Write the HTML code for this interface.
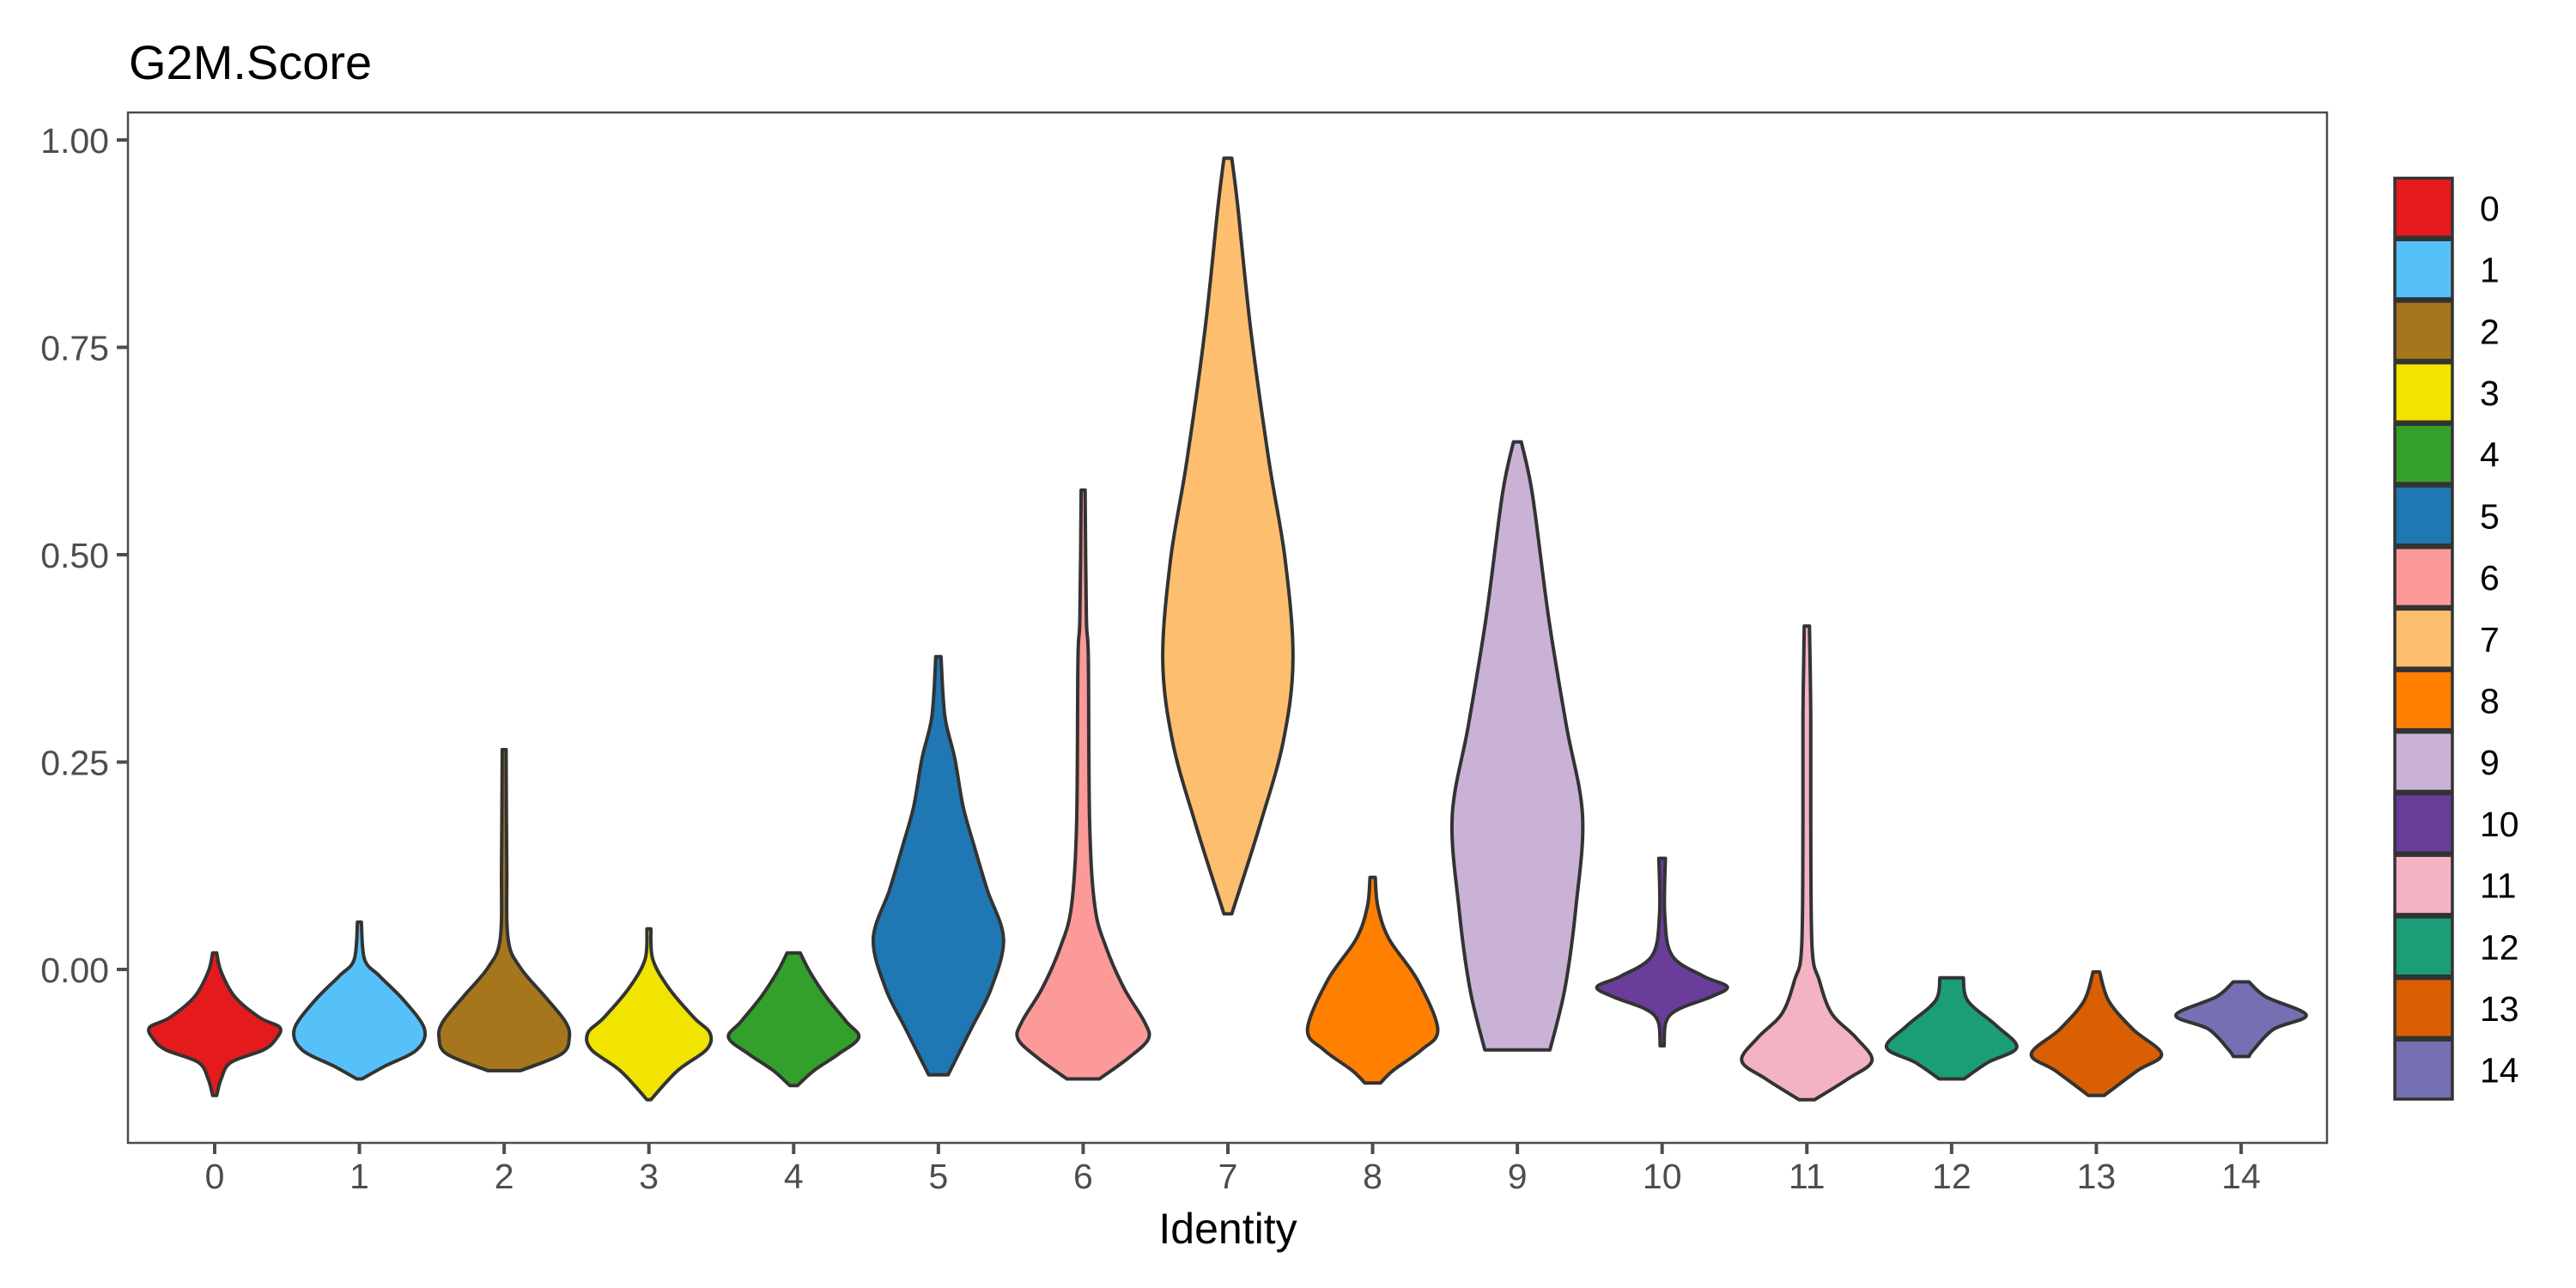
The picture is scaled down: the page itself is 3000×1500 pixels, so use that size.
<!DOCTYPE html>
<html><head><meta charset="utf-8"><style>
html,body{margin:0;padding:0;background:#fff;}
svg{display:block;font-family:"Liberation Sans",Arial,sans-serif;}
</style></head><body>
<svg id="chart" width="3000" height="1500" viewBox="0 0 3000 1500" xmlns="http://www.w3.org/2000/svg">
<rect width="3000" height="1500" fill="#fff"/>
<text x="150" y="92" font-size="56" fill="#000">G2M.Score</text>
<g id="plot"></g>
<rect x="149" y="131" width="2561" height="1200" fill="none" stroke="#4d4d4d" stroke-width="2.5"/>
<g id="axes"></g>
<text x="1430" y="1448" font-size="50" text-anchor="middle" fill="#000">Identity</text>
<g id="legend"></g>
</svg>
<script>
const categories=["0","1","2","3","4","5","6","7","8","9","10","11","12","13","14"];
const colors=["#E41A1C","#56C1F9","#A6761D","#F0E400","#33A02C","#1F78B4","#FB9A99","#FDBF6F","#FF7F00","#CAB2D6","#6A3D9A","#F4B3C2","#1B9E77","#D95F02","#7570B3"];
const yTicks=[0,0.25,0.5,0.75,1.0];
const yTickLabels=["0.00","0.25","0.50","0.75","1.00"];
const v0=[0.020,-0.003,-0.033,-0.058,-0.070,-0.084,-0.097,-0.112,-0.132,-0.152];
const w0=[.03,.1,.31,.69,1,.94,.75,.25,.1,.03];
const v1=[0.057,0.012,-0.008,-0.038,-0.072,-0.097,-0.117,-0.132];
const w1=[.03,.08,.31,.69,1,.88,.38,.04];
const v2=[0.265,0.126,0.037,0.002,-0.033,-0.063,-0.082,-0.102,-0.122];
const w2=[.03,.04,.06,.25,.63,.94,1,.88,.25];
const v3=[0.049,0.012,-0.023,-0.058,-0.077,-0.097,-0.122,-0.157];
const w3=[.03,.06,.31,.69,.94,.88,.44,.03];
const v4=[0.020,-0.003,-0.033,-0.063,-0.082,-0.102,-0.122,-0.140];
const w4=[.1,.25,.5,.81,1,.69,.31,.06];
const v5=[0.377,0.305,0.255,0.196,0.146,0.096,0.037,-0.023,-0.072,-0.127];
const w5=[.04,.1,.25,.38,.56,.75,1,.81,.5,.15];
const v6=[0.578,0.424,0.374,0.176,0.076,0.027,-0.023,-0.063,-0.084,-0.107,-0.132];
const w6=[.03,.05,.08,.1,.18,.35,.63,.94,1,.69,.25];
const v7=[0.978,0.921,0.772,0.613,0.494,0.374,0.275,0.176,0.067];
const w7=[.06,.15,.35,.63,.88,1,.85,.5,.06];
const v8=[0.111,0.076,0.037,-0.013,-0.072,-0.097,-0.122,-0.137];
const w8=[.04,.08,.25,.69,1,.75,.31,.12];
const v9=[0.636,0.573,0.424,0.295,0.186,0.076,-0.023,-0.097];
const w9=[.06,.23,.48,.75,1,.9,.73,.5];
const v10=[0.134,0.067,0.017,-0.008,-0.021,-0.033,-0.048,-0.063,-0.092];
const w10=[.05,.04,.15,.63,1,.75,.25,.06,.03];
const v11=[0.414,0.305,0.176,0.027,-0.013,-0.053,-0.082,-0.110,-0.132,-0.157];
const w11=[.04,.06,.06,.08,.19,.38,.75,1,.63,.12];
const v12=[-0.010,-0.038,-0.068,-0.094,-0.112,-0.132];
const w12=[.18,.25,.69,1,.56,.19];
const v13=[-0.003,-0.038,-0.072,-0.102,-0.122,-0.152];
const w13=[.05,.19,.56,1,.63,.12];
const v14=[-0.015,-0.033,-0.055,-0.072,-0.097,-0.105];
const w14=[.12,.38,1,.5,.19,.12];
const vals=[v0,v1,v2,v3,v4,v5,v6,v7,v8,v9,v10,v11,v12,v13,v14];
const wids=[w0,w1,w2,w3,w4,w5,w6,w7,w8,w9,w10,w11,w12,w13,w14];

const NS="http://www.w3.org/2000/svg";
const X0=250, DX=168.57, Y0=1129, YS=966;
function xs(i){return X0+i*DX;}
function ys(v){return Y0-v*YS;}
const HW=0.45*DX;
function mk(t,a,p){const e=document.createElementNS(NS,t);for(const k in a)e.setAttribute(k,a[k]);p.appendChild(e);return e;}
function crPath(pts){
  let d="";
  for(let i=0;i<pts.length-1;i++){
    const p0=pts[i-1]||pts[i],p1=pts[i],p2=pts[i+1],p3=pts[i+2]||p2;
    const c1=[p1[0]+(p2[0]-p0[0])/6,p1[1]+(p2[1]-p0[1])/6];
    const c2=[p2[0]-(p3[0]-p1[0])/6,p2[1]-(p3[1]-p1[1])/6];
    d+=` C${c1[0].toFixed(1)},${c1[1].toFixed(1)} ${c2[0].toFixed(1)},${c2[1].toFixed(1)} ${p2[0].toFixed(1)},${p2[1].toFixed(1)}`;
  }
  return d;
}
const plot=document.getElementById('plot');
categories.forEach((c,i)=>{
  const cx=xs(i),v=vals[i],w=wids[i];
  const R=v.map((y,k)=>[cx+w[k]*HW,ys(y)]);
  const L=v.map((y,k)=>[cx-w[k]*HW,ys(y)]).reverse();
  let d=`M${L[L.length-1][0].toFixed(1)},${R[0][1].toFixed(1)} L${R[0][0].toFixed(1)},${R[0][1].toFixed(1)}`+crPath(R);
  d+=` L${L[0][0].toFixed(1)},${L[0][1].toFixed(1)}`+crPath(L)+" Z";
  const p=mk('path',{d:d,fill:colors[i],stroke:'#333333','stroke-width':4,'stroke-linejoin':'round'},plot);
  
  
});
const axes=document.getElementById('axes');
yTicks.forEach((t,k)=>{
  const y=ys(t);
  const l=mk('line',{x1:136,x2:149,y1:y,y2:y,stroke:'#4d4d4d','stroke-width':4},axes);
  
  
  const tx=mk('text',{x:127,y:y+15,'font-size':41,'text-anchor':'end',fill:'#4d4d4d'},axes);
  tx.textContent=yTickLabels[k];
  
  
});
categories.forEach((c,i)=>{
  const x=xs(i);
  const l=mk('line',{x1:x,x2:x,y1:1331,y2:1344,stroke:'#4d4d4d','stroke-width':4},axes);
  
  
  const tx=mk('text',{x:x,y:1384,'font-size':41,'text-anchor':'middle',fill:'#4d4d4d'},axes);
  tx.textContent=c;
  
  
});
const leg=document.getElementById('legend');
const LT=206, LP=71.7;
categories.forEach((c,i)=>{
  const y=LT+i*LP;
  const r=mk('rect',{x:2789,y:y+1.5,width:67,height:LP-3,fill:colors[i],stroke:'#333333','stroke-width':3.5},leg);
  
  
  const tx=mk('text',{x:2888,y:y+LP/2+15,'font-size':41,fill:'#000'},leg);
  tx.textContent=c;
  
  
});
</script>
</body></html>
